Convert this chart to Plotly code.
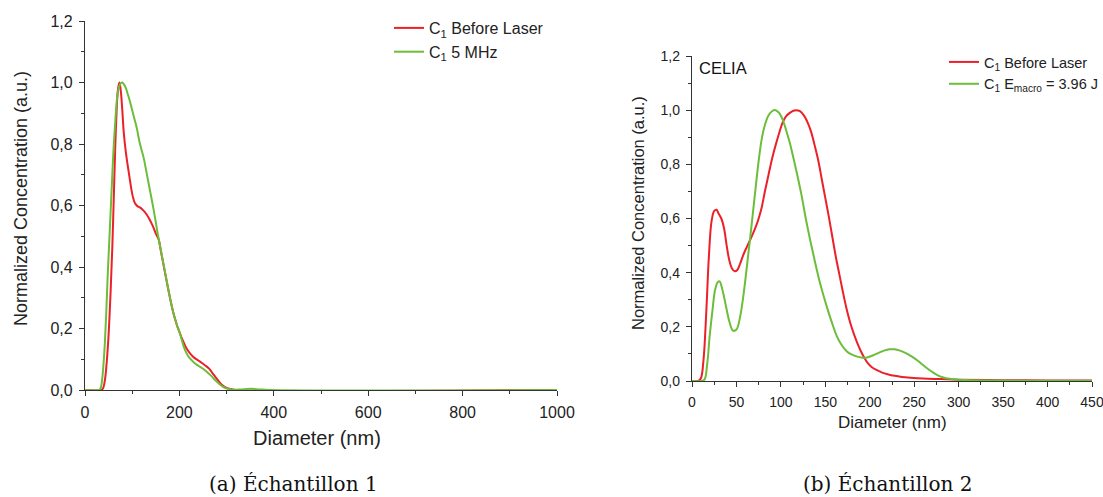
import plotly.graph_objects as go

W, H = 1103, 497

# ---------------- data: (a) Echantillon 1 ----------------
a_before_d = [0, 34, 38, 42, 46, 50, 54, 58, 62, 66, 70, 73, 76, 79, 82, 86, 90, 94, 98, 102,
              106, 111, 116, 121, 126, 131, 136, 141, 146, 151, 156, 161, 166, 171, 176, 181,
              186, 191, 196, 201, 206, 211, 216, 222, 228, 234, 240, 246, 252, 258, 264, 270,
              276, 282, 288, 294, 300, 310, 320, 1000]
a_before_v = [0, 0, 0.005, 0.03, 0.09, 0.18, 0.31, 0.47, 0.68, 0.87, 0.98, 1.0, 0.97, 0.91,
              0.84, 0.78, 0.735, 0.695, 0.655, 0.625, 0.607, 0.598, 0.594, 0.588, 0.58, 0.57,
              0.557, 0.542, 0.525, 0.505, 0.49, 0.45, 0.41, 0.37, 0.33, 0.293, 0.258, 0.23,
              0.205, 0.185, 0.165, 0.148, 0.133, 0.12, 0.11, 0.102, 0.096, 0.09, 0.083, 0.076,
              0.068, 0.055, 0.043, 0.031, 0.02, 0.012, 0.007, 0.003, 0, 0]

a_5mhz_d = [0, 30, 33, 36, 39, 42, 45, 48, 51, 54, 57, 60, 64, 68, 72, 76, 79, 83, 87, 91, 95,
            100, 105, 110, 115, 120, 125, 130, 135, 140, 145, 150, 155, 160, 165, 170, 175, 180,
            185, 190, 195, 200, 205, 210, 215, 220, 226, 232, 238, 244, 250, 256, 262, 268, 274,
            280, 286, 292, 298, 305, 315, 330, 350, 370, 390, 1000]
a_5mhz_v = [0, 0, 0.005, 0.03, 0.08, 0.15, 0.25, 0.37, 0.47, 0.57, 0.67, 0.77, 0.87, 0.95,
            0.985, 0.998, 1.0, 0.993, 0.98, 0.96, 0.94, 0.91, 0.88, 0.85, 0.81, 0.78, 0.75,
            0.71, 0.67, 0.63, 0.59, 0.545, 0.5, 0.46, 0.42, 0.38, 0.34, 0.30, 0.265, 0.235,
            0.21, 0.19, 0.163, 0.138, 0.12, 0.107, 0.097, 0.088, 0.081, 0.075, 0.069, 0.062,
            0.054, 0.045, 0.035, 0.026, 0.018, 0.011, 0.006, 0.003, 0.001, 0.002, 0.004, 0.002,
            0, 0]

# ---------------- data: (b) Echantillon 2 ----------------
b_before_d = [0, 7, 10, 13, 16, 19, 22, 25, 27.5, 30, 33, 36, 39, 42, 45, 48, 51, 54, 58, 62,
              66, 70, 74, 78, 82, 86, 90, 94, 98, 102, 106, 110, 114, 117, 121, 126, 130, 134,
              138, 142, 146, 150, 154, 158, 162, 166, 170, 174, 178, 182, 186, 190, 194, 198,
              202, 208, 214, 220, 228, 236, 246, 260, 280, 300, 350, 400, 450]
b_before_v = [0, 0, 0.01, 0.08, 0.25, 0.46, 0.59, 0.628, 0.632, 0.618, 0.6, 0.565, 0.5, 0.445,
              0.415, 0.405, 0.41, 0.432, 0.468, 0.497, 0.525, 0.555, 0.59, 0.635, 0.7, 0.76,
              0.82, 0.87, 0.915, 0.955, 0.978, 0.99, 0.998, 1.0, 0.997, 0.98, 0.955, 0.92,
              0.87, 0.815, 0.745, 0.675, 0.605, 0.53, 0.455, 0.39, 0.325, 0.265, 0.215, 0.175,
              0.14, 0.11, 0.085, 0.065, 0.052, 0.04, 0.031, 0.025, 0.019, 0.015, 0.012, 0.009,
              0.007, 0.005, 0.003, 0.002, 0.002]

b_emacro_d = [0, 10, 14, 17, 20, 23, 26, 29, 31, 34, 38, 42, 46, 50, 54, 58, 62, 66, 70, 74,
              78, 82, 86, 90, 94, 98, 102, 106, 110, 114, 118, 123, 128, 133, 138, 143, 148,
              153, 158, 163, 168, 174, 180, 186, 192, 198, 204, 210, 216, 222, 228, 234, 240,
              246, 252, 258, 264, 270, 276, 282, 290, 300, 315, 340, 380, 450]
b_emacro_v = [0, 0, 0.005, 0.06, 0.17, 0.26, 0.337, 0.365, 0.368, 0.34, 0.28, 0.22, 0.186,
              0.19, 0.235, 0.32, 0.43, 0.545, 0.665, 0.785, 0.885, 0.945, 0.98, 0.996, 1.0,
              0.99, 0.965, 0.925, 0.88, 0.825, 0.767, 0.69, 0.6, 0.52, 0.445, 0.375, 0.315,
              0.26, 0.21, 0.165, 0.135, 0.11, 0.097, 0.09, 0.086, 0.088, 0.095, 0.104, 0.112,
              0.117, 0.117, 0.112, 0.104, 0.093, 0.08, 0.064, 0.048, 0.034, 0.022, 0.014,
              0.008, 0.005, 0.003, 0.002, 0.001, 0.001]

names_a = ["C<sub>1</sub> Before Laser", "C<sub>1</sub> 5 MHz"]
names_b = ["C<sub>1</sub> Before Laser", "C<sub>1</sub> E<sub>macro</sub> = 3.96 J"]
captions = ["(a) Échantillon 1", "(b) Échantillon 2"]
x_title = "Diameter (nm)"
y_title = "Normalized Concentration (a.u.)"

RED = "#EC2028"
GREEN = "#6CBD3A"
AX = "#333333"
SANS = "Liberation Sans, Arial, sans-serif"


def px(x):
    return x / W


def py(y):
    return 1 - y / H


fig = go.Figure()
line_kw = dict(width=2, shape="spline", smoothing=1.0)
fig.add_trace(go.Scatter(x=a_before_d, y=a_before_v, name=names_a[0], mode="lines",
                         line=dict(color=RED, **line_kw), xaxis="x", yaxis="y", legend="legend"))
fig.add_trace(go.Scatter(x=a_5mhz_d, y=a_5mhz_v, name=names_a[1], mode="lines",
                         line=dict(color=GREEN, **line_kw), xaxis="x", yaxis="y", legend="legend"))
fig.add_trace(go.Scatter(x=b_before_d, y=b_before_v, name=names_b[0], mode="lines",
                         line=dict(color=RED, **line_kw), xaxis="x2", yaxis="y2", legend="legend2"))
fig.add_trace(go.Scatter(x=b_emacro_d, y=b_emacro_v, name=names_b[1], mode="lines",
                         line=dict(color=GREEN, **line_kw), xaxis="x2", yaxis="y2", legend="legend2"))


def axis(domain, rng, dtick, minor, anchor, fsize):
    return dict(domain=domain, range=rng, dtick=dtick, tick0=0, anchor=anchor, automargin=False,
                showline=True, linecolor=AX, linewidth=1.3, showgrid=False, zeroline=False,
                ticks="outside", ticklen=5, tickwidth=1.2, tickcolor=AX,
                minor=dict(dtick=minor, ticks="outside", ticklen=3, tickwidth=1, tickcolor=AX, showgrid=False),
                tickfont=dict(family=SANS, size=fsize, color="#222"), ticklabelstandoff=3,
                ticklabeloverflow="allow")


fig.update_layout(
    width=W, height=H, margin=dict(l=0, r=0, t=0, b=0, autoexpand=False),
    paper_bgcolor="white", plot_bgcolor="white", separators=",.",
    xaxis=axis([px(85), px(557)], [0, 1000], 200, 100, "y", 16),
    yaxis=dict(**axis([py(390), py(21)], [0, 1.2], 0.2, 0.1, "x", 16), tickformat=".1f"),
    xaxis2=axis([px(692), px(1092)], [0, 450], 50, 25, "y2", 14),
    yaxis2=dict(**axis([py(381), py(56)], [0, 1.2], 0.2, 0.1, "x2", 14), tickformat=".1f"),
    legend=dict(x=px(389), y=py(11), xanchor="left", yanchor="top", bgcolor="rgba(0,0,0,0)",
                font=dict(family=SANS, size=16, color="#222"), tracegroupgap=0, itemwidth=30),
    legend2=dict(x=px(944), y=py(46), xanchor="left", yanchor="top", bgcolor="rgba(0,0,0,0)",
                 font=dict(family=SANS, size=14.5, color="#222"), tracegroupgap=0, itemwidth=30),
    showlegend=True,
)

ann = [
    dict(text=x_title, x=px(317), y=py(438), font=dict(family=SANS, size=20, color="#222")),
    dict(text=y_title, x=px(21), y=py(199), textangle=-90, font=dict(family=SANS, size=18, color="#222")),
    dict(text=x_title, x=px(892), y=py(422), font=dict(family=SANS, size=17, color="#222")),
    dict(text=y_title, x=px(638), y=py(213), textangle=-90, font=dict(family=SANS, size=16.5, color="#222")),
    dict(text="CELIA", x=px(697), y=py(68), xanchor="left", font=dict(family=SANS, size=16.5, color="#111")),
    dict(text=captions[0], x=px(293), y=py(484), font=dict(family="DejaVu Serif, serif", size=20, color="#111")),
    dict(text=captions[1], x=px(887), y=py(484), font=dict(family="DejaVu Serif, serif", size=20, color="#111")),
]
for a in ann:
    a.setdefault("xanchor", "center")
    fig.add_annotation(xref="paper", yref="paper", yanchor="middle", showarrow=False, **a)

fig.write_html("out.html")
